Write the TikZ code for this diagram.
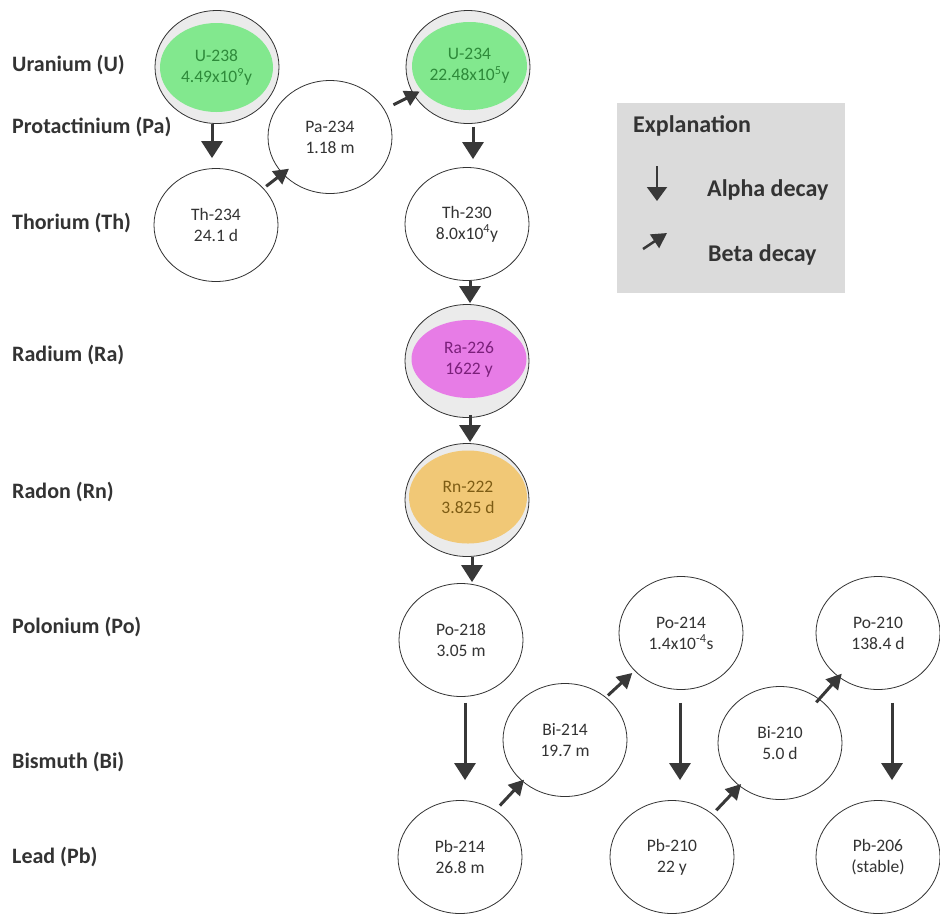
\documentclass[tikz,border=0pt]{standalone}
\usepackage{fontspec}
\setmainfont{Carlito}
\usetikzlibrary{shapes.geometric,arrows.meta,calc}
\definecolor{ink}{HTML}{333333}
\definecolor{arr}{HTML}{383838}
\definecolor{ring}{HTML}{EBEBEB}
\definecolor{ugreen}{HTML}{82E88E}
\definecolor{ugtext}{HTML}{2E8A3A}
\definecolor{ramag}{HTML}{E77CE6}
\definecolor{ratext}{HTML}{7A207A}
\definecolor{rnorange}{HTML}{F1C876}
\definecolor{rntext}{HTML}{7D5C14}
\definecolor{legbg}{HTML}{DBDBDB}
\begin{document}
\begin{tikzpicture}[x=1pt,y=-1pt,
  iso/.style={ellipse, draw=ink, line width=0.8pt, minimum width=124pt, minimum height=113pt,
    inner sep=0pt, align=center, font=\fontsize{17.5}{21}\selectfont, text=ink},
  ringed/.style={iso, fill=ring},
  core/.style={ellipse, inner sep=0pt, align=center, font=\fontsize{17.5}{21}\selectfont},
  elem/.style={anchor=west, inner sep=0pt, font=\bfseries\fontsize{22}{26}\selectfont, text=ink},
  legtext/.style={anchor=west, inner sep=0pt, font=\bfseries\fontsize{24}{28}\selectfont, text=ink},
  alphaarrow/.style={draw=arr, line width=3pt, -{Triangle[width=21pt,length=17pt]}},
  betaarrow/.style={draw=arr, line width=3pt, -{Triangle[width=16pt,length=15pt]}},
]
\fill[white] (0,0) rectangle (940,914);
\useasboundingbox (0,0) rectangle (940,914);

% element labels
\node[elem] (lU)  at (12,65)  {Uranium (U)};
\node[elem] (lPa) at (12,127) {Protactinium (Pa)};
\node[elem] (lTh) at (12,223) {Thorium (Th)};
\node[elem] (lRa) at (12,355) {Radium (Ra)};
\node[elem] (lRn) at (12,492) {Radon (Rn)};
\node[elem] (lPo) at (12,627) {Polonium (Po)};
\node[elem] (lBi) at (12,762) {Bismuth (Bi)};
\node[elem] (lPb) at (12,857) {Lead (Pb)};

% isotopes
\node[ringed] (U238) at (217,67) {};
\node[core, fill=ugreen, text=ugtext, minimum width=113pt, minimum height=89pt] (U238c) at (216.5,67.5)
  {U-238\\4.49x10\textsuperscript{9}y};
\node[iso] (Pa234) at (330,137) {Pa-234\\1.18 m};
\node[ringed] (U234) at (468,67) {};
\node[core, fill=ugreen, text=ugtext, minimum width=115pt, minimum height=88pt] (U234c) at (469.5,66)
  {U-234\\22.48x10\textsuperscript{5}y};
\node[iso] (Th234) at (216,225) {Th-234\\24.1 d};
\node[iso] (Th230) at (467,224) {Th-230\\8.0x10\textsuperscript{4}y};
\node[ringed] (Ra226) at (467,361) {};
\node[core, fill=ramag, text=ratext, minimum width=115pt, minimum height=78pt] (Ra226c) at (469,359)
  {Ra-226\\1622 y};
\node[ringed] (Rn222) at (467,500) {};
\node[core, fill=rnorange, text=rntext, minimum width=118pt, minimum height=93pt] (Rn222c) at (468,497)
  {Rn-222\\3.825 d};
\node[iso] (Po218) at (461,640) {Po-218\\3.05 m};
\node[iso] (Po214) at (681,633) {Po-214\\1.4x10\textsuperscript{-4}s};
\node[iso] (Po210) at (878,633) {Po-210\\138.4 d};
\node[iso] (Bi214) at (565,740) {Bi-214\\19.7 m};
\node[iso] (Bi210) at (780,743) {Bi-210\\5.0 d};
\node[iso] (Pb214) at (460,857) {Pb-214\\26.8 m};
\node[iso] (Pb210) at (672,857) {Pb-210\\22 y};
\node[iso] (Pb206) at (878,857) {Pb-206\\(stable)};

% alpha decays
\draw[alphaarrow] ($(U238.south)+(-5,0)$) -- ($(U238.south |- Th234.north)+(-5,-10)$);
\draw[alphaarrow] ($(U234.south)+(5,3)$) -- ($(U234.south |- Th230.north)+(5,-8)$);
\draw[alphaarrow] ($(Th230.south)+(3,0)$) -- ($(Th230.south |- Ra226.north)+(3,-1)$);
\draw[alphaarrow] ($(Ra226.south)+(3,-3)$) -- ($(Ra226.south |- Rn222.north)+(3,-1)$);
\draw[alphaarrow] ($(Rn222.south)+(5,0)$) -- ($(Rn222.south |- Po218.north)+(5,-1)$);
\draw[alphaarrow] ($(Po218.south)+(4,6)$) -- ($(Po218.south |- Pb214.north)+(4,-20)$);
\draw[alphaarrow] ($(Po214.south)+(-1,13)$) -- ($(Po214.south |- Pb210.north)+(-1,-20)$);
\draw[alphaarrow] ($(Po210.south)+(14,13)$) -- ($(Po210.south |- Pb206.north)+(14,-20)$);

% beta decays
\draw[betaarrow] ($(Th234)!0.44!(Pa234)$) -- ($(Th234)!0.64!(Pa234)$);
\draw[betaarrow] ($(Pa234)!0.46!(U234)$) -- ($(Pa234)!0.65!(U234)$);
\draw[betaarrow] ($(Pb214)!0.38!(Bi214)+(0,-7)$) -- ($(Pb214)!0.61!(Bi214)+(0,-6)$);
\draw[betaarrow] ($(Bi214)!0.37!(Po214)+(0,-5)$) -- ($(Bi214)!0.58!(Po214)+(0,-5)$);
\draw[betaarrow] ($(Pb210)!0.41!(Bi210)$) -- ($(Pb210)!0.64!(Bi210)$);
\draw[betaarrow] ($(Bi210)!0.37!(Po210)$) -- ($(Bi210)!0.63!(Po210)$);

% legend
\node[fill=legbg, minimum width=228pt, minimum height=190pt, inner sep=0pt, anchor=north west] (legend) at (617,103) {};
\node[legtext] (legtitle) at (633,126) {Explanation};
\coordinate (la1) at (657,166);
\coordinate (la2) at (657,201);
\draw[draw=arr, line width=2pt, -{Triangle[width=20pt,length=14pt]}] (la1) -- (la2);
\node[legtext] (legalpha) at (707,190) {Alpha decay};
\coordinate (lb1) at (643,249);
\coordinate (lb2) at (667,233);
\draw[draw=arr, line width=2.5pt, -{Triangle[width=16pt,length=15pt]}] (lb1) -- (lb2);
\node[legtext] (legbeta) at (708,255) {Beta decay};
\end{tikzpicture}
\end{document}
